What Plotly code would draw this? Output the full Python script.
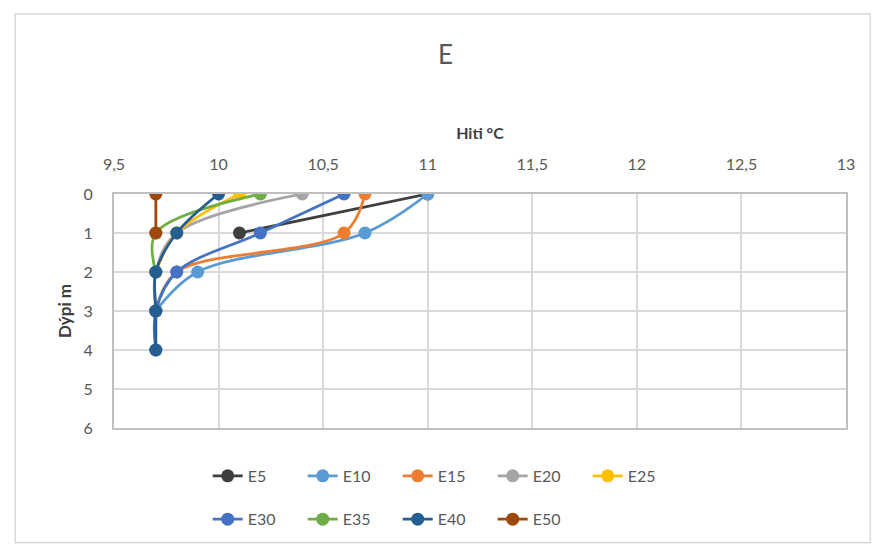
import plotly.graph_objects as go

# Temperature profiles (°C) against depth (m) for each station
series_names = ["E5", "E10", "E15", "E20", "E25", "E30", "E35", "E40", "E50"]
depths = {
    "E5": [0, 1],
    "E10": [0, 1, 2, 3],
    "E15": [0, 1, 2, 3],
    "E20": [0, 1, 2, 3],
    "E25": [0, 1, 2],
    "E30": [0, 1, 2, 3, 4],
    "E35": [0, 1, 2],
    "E40": [0, 1, 2, 3, 4],
    "E50": [0, 1],
}
temps = {
    "E5": [11.0, 10.1],
    "E10": [11.0, 10.7, 9.9, 9.7],
    "E15": [10.7, 10.6, 9.8, 9.7],
    "E20": [10.4, 9.8, 9.7, 9.7],
    "E25": [10.1, 9.8, 9.7],
    "E30": [10.6, 10.2, 9.8, 9.7, 9.7],
    "E35": [10.2, 9.7, 9.7],
    "E40": [10.0, 9.8, 9.7, 9.7, 9.7],
    "E50": [9.7, 9.7],
}
colors = {
    "E5": "#3f3f3f",
    "E10": "#5B9BD5",
    "E15": "#ED7D31",
    "E20": "#A5A5A5",
    "E25": "#FFC000",
    "E30": "#4472C4",
    "E35": "#70AD47",
    "E40": "#255E91",
    "E50": "#9E480E",
}
x_ticks = [9.5, 10, 10.5, 11, 11.5, 12, 12.5, 13]
y_ticks = [0, 1, 2, 3, 4, 5, 6]

FONT = "Lato, 'Open Sans', sans-serif"

fig = go.Figure()
for i, name in enumerate(series_names):
    fig.add_trace(go.Scatter(
        x=temps[name], y=depths[name], name=name,
        mode="lines+markers",
        line=dict(color=colors[name], width=2.8, shape="spline", smoothing=1),
        marker=dict(color=colors[name], size=13),
        legend="legend" if i < 5 else "legend2",
    ))

legend_common = dict(
    orientation="h", xanchor="left", yanchor="middle",
    font=dict(family=FONT, size=16, color="#595959"),
    entrywidth=50, entrywidthmode="pixels",
    itemwidth=30, bgcolor="rgba(0,0,0,0)", tracegroupgap=0,
)

fig.update_layout(
    width=872, height=548,
    margin=dict(l=114, r=26, t=194, b=118),
    paper_bgcolor="white", plot_bgcolor="white",
    separators=",.",
    title=dict(text="E", x=0.511, xanchor="center", y=0.9, yanchor="middle",
               font=dict(family=FONT, size=26, color="#595959")),
    xaxis=dict(
        side="top", range=[9.5, 13], tickvals=x_ticks,
        showgrid=True, gridcolor="#D9D9D9", gridwidth=1.5,
        showline=True, linecolor="#BFBFBF", linewidth=2, mirror=True,
        zeroline=False, ticks="", ticklabelstandoff=16,
        tickfont=dict(family=FONT, size=16, color="#595959"),
        title=dict(text="<b>Hiti °C</b>", standoff=10,
                   font=dict(family=FONT, size=16, color="#404040")),
    ),
    yaxis=dict(
        range=[6, 0], tickvals=y_ticks,
        showgrid=True, gridcolor="#D9D9D9", gridwidth=1.5,
        showline=True, linecolor="#BFBFBF", linewidth=2, mirror=True,
        zeroline=False, ticks="", ticklabelstandoff=16,
        tickfont=dict(family=FONT, size=16, color="#595959"),
        title=dict(text="<b>Dýpi m</b>", standoff=8,
                   font=dict(family=FONT, size=17, color="#404040")),
    ),
    legend=dict(x=0.128, y=-0.205, **legend_common),
    legend2=dict(x=0.128, y=-0.39, **legend_common),
    showlegend=True,
)

# Outer chart frame
fig.add_shape(type="rect", xref="paper", yref="paper",
              x0=-0.135, x1=1.033, y0=-0.49, y1=1.77,
              line=dict(color="#D0D0D0", width=1.2), layer="below")

fig.write_html("out.html")
